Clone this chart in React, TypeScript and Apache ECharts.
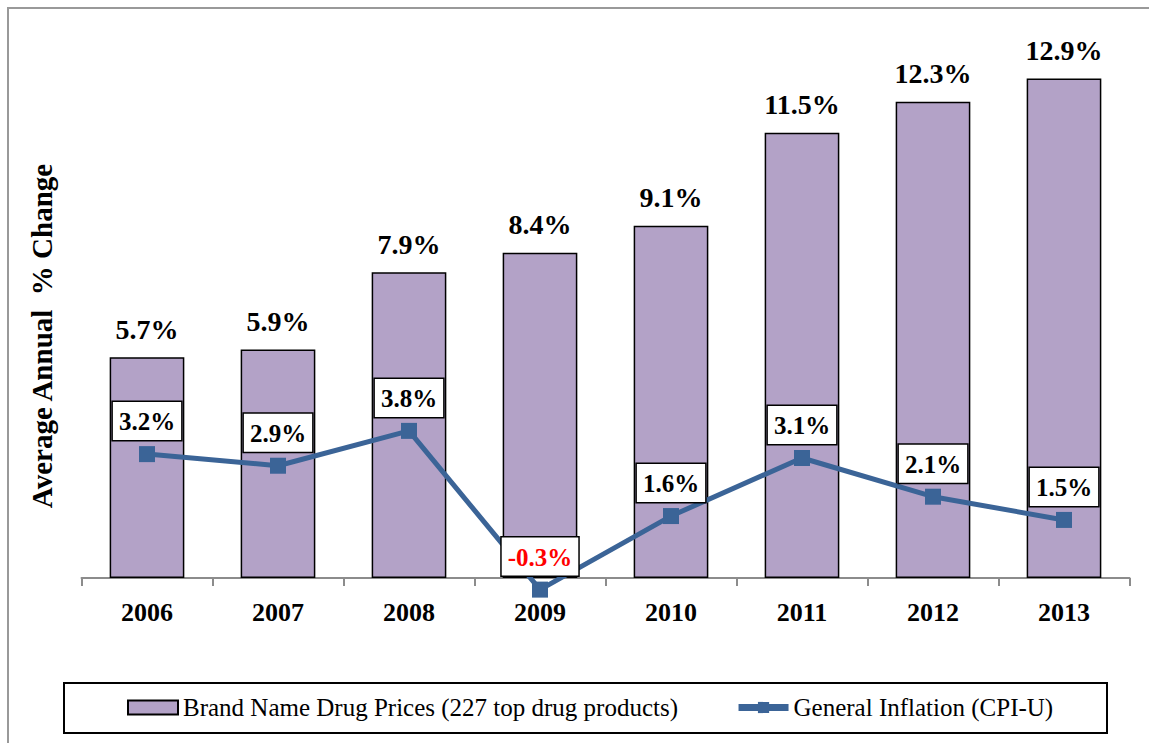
import React, { useEffect, useRef } from "react";
import * as echarts from "echarts";

const years = ["2006", "2007", "2008", "2009", "2010", "2011", "2012", "2013"];
const brandDrugPrices = [5.7, 5.9, 7.9, 8.4, 9.1, 11.5, 12.3, 12.9];
const generalInflation = [3.2, 2.9, 3.8, -0.3, 1.6, 3.1, 2.1, 1.5];
const barName = "Brand Name Drug Prices (227 top drug products)";
const lineName = "General Inflation (CPI-U)";
const yTitle = "Average Annual  % Change";

const FONT = "'Liberation Serif', 'Times New Roman', serif";

export default function App() {
  const ref = useRef<HTMLDivElement>(null);
  useEffect(() => {
    if (!ref.current) return;
    const chart = echarts.init(ref.current, undefined, { renderer: "svg" });
    const option: any = {
      animation: false,
      backgroundColor: "#ffffff",
      textStyle: { fontFamily: FONT },
      grid: { left: 81.5, right: 19.5, top: 36, bottom: 165, containLabel: false },
      xAxis: {
        type: "category",
        data: years,
        axisLine: { lineStyle: { color: "#8c8c8c", width: 2 } },
        axisTick: { show: true, length: 8, lineStyle: { color: "#8c8c8c", width: 2 } },
        axisLabel: {
          fontFamily: FONT,
          fontWeight: "bold",
          fontSize: 26,
          color: "#000",
          margin: 21,
        },
      },
      yAxis: {
        type: "value",
        min: 0,
        max: 14,
        show: false,
        splitLine: { show: false },
      },
      legend: {
        left: 122,
        top: 690,
        itemWidth: 50,
        itemHeight: 14,
        itemGap: 57,
        textStyle: { fontFamily: FONT, fontSize: 25, color: "#000" },
        data: [
          { name: barName, icon: "rect" },
          { name: lineName, lineStyle: { width: 7, color: "#3b6497" }, itemStyle: { color: "#3b6497" } },
        ],
      },
      series: [
        {
          name: barName,
          type: "bar",
          data: brandDrugPrices,
          barWidth: "57%",
          itemStyle: { color: "#b3a2c7", borderColor: "#000", borderWidth: 1.5 },
          label: {
            show: true,
            position: "top",
            distance: 14,
            fontFamily: FONT,
            fontWeight: "bold",
            fontSize: 28,
            color: "#000",
            formatter: (p: any) => p.value.toFixed(1) + "%",
          },
          z: 2,
        },
        {
          name: lineName,
          type: "line",
          clip: false,
          data: generalInflation.map((v) => ({
            value: v,
            label: { color: v < 0 ? "#ff0000" : "#000" },
          })),
          symbol: "rect",
          symbolSize: 16,
          lineStyle: { color: "#3b6497", width: 5 },
          itemStyle: { color: "#3b6497" },
          label: {
            show: true,
            position: "top",
            distance: 6,
            fontFamily: FONT,
            fontWeight: "bold",
            fontSize: 25,
            color: "#000",
            backgroundColor: "#fff",
            borderColor: "#000",
            borderWidth: 1.5,
            padding: [7, 6, 6, 6],
            formatter: (p: any) => p.value.toFixed(1) + "%",
          },
          z: 3,
        },
      ],
      graphic: [
        {
          type: "rect",
          shape: { x: 8, y: 8, width: 1200, height: 800 },
          style: { fill: "none", stroke: "#999", lineWidth: 2 },
          silent: true,
        },
        {
          type: "rect",
          shape: { x: 64, y: 683, width: 1043, height: 50 },
          style: { fill: "none", stroke: "#000", lineWidth: 2 },
          silent: true,
        },
        {
          type: "text",
          x: 42,
          y: 336,
          rotation: Math.PI / 2,
          style: {
            text: yTitle,
            fontFamily: FONT,
            fontWeight: "bold",
            fontSize: 29,
            fill: "#000",
            textAlign: "center",
            textVerticalAlign: "middle",
          },
          silent: true,
        },
      ],
    };
    chart.setOption(option);
    return () => chart.dispose();
  }, []);
  return (
    <div
      ref={ref}
      style={{ position: "fixed", left: 0, top: 0, width: 1149, height: 743 }}
    />
  );
}
